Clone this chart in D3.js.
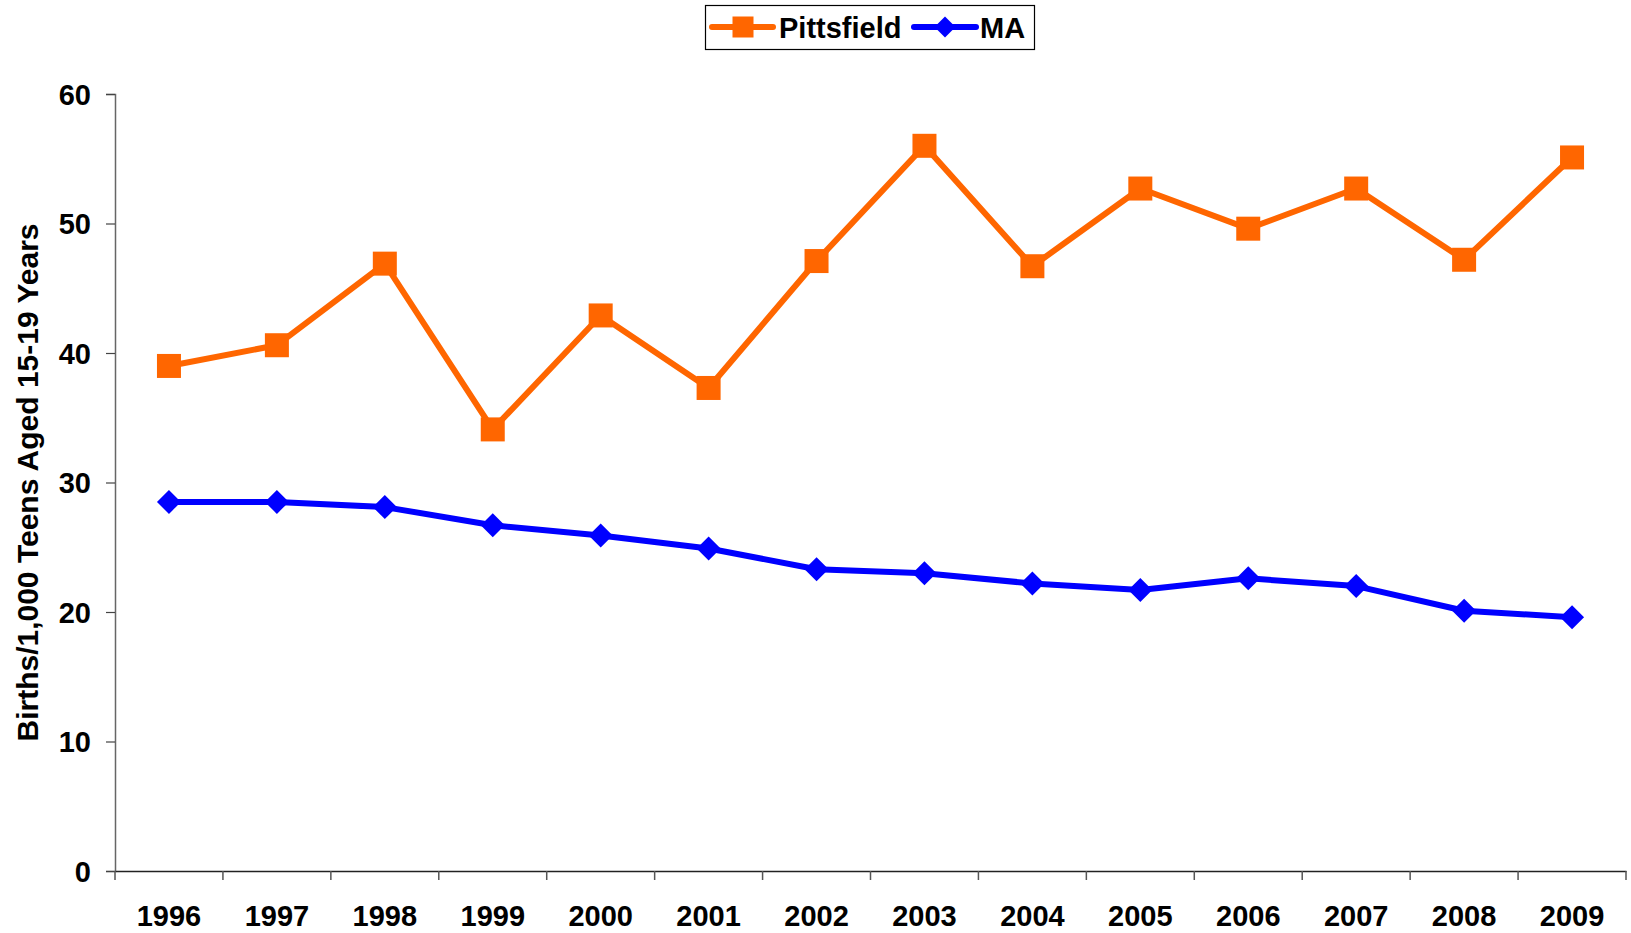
<!DOCTYPE html>
<html>
<head>
<meta charset="utf-8">
<script src="https://cdn.jsdelivr.net/npm/d3@7"></script>
<style>
  html, body { margin: 0; padding: 0; background: #fff; }
  svg { display: block; }
  text { font-family: "Liberation Sans", Arial, sans-serif; font-weight: bold; fill: #000; }
</style>
</head>
<body>
<svg id="chart" width="1631" height="933"></svg>
<script>
const years = ["1996","1997","1998","1999","2000","2001","2002","2003","2004","2005","2006","2007","2008","2009"];
const pittsfield = [39.0, 40.6, 46.9, 34.1, 42.9, 37.3, 47.1, 56.0, 46.7, 52.7, 49.6, 52.7, 47.2, 55.1];
const ma = [28.5, 28.5, 28.1, 26.7, 25.9, 24.9, 23.3, 23.0, 22.2, 21.7, 22.6, 22.0, 20.1, 19.6];
const yTicks = [0, 10, 20, 30, 40, 50, 60];
const seriesNames = ["Pittsfield", "MA"];
const yTitle = "Births/1,000 Teens Aged 15-19 Years";

const W = 1631, H = 933;
const margin = { left: 115, right: 5, top: 94, bottom: 62 };
const svg = d3.select("#chart");

const x = d3.scaleBand().domain(years).range([margin.left, W - margin.right]).paddingInner(0).paddingOuter(0);
const y = d3.scaleLinear().domain([0, 60]).range([H - margin.bottom, margin.top]);
const cx = d => x(d) + x.bandwidth() / 2;

// Y axis
const yAxis = svg.append("g").attr("transform", `translate(${margin.left},0)`)
  .call(d3.axisLeft(y).tickValues(yTicks).tickSize(9).tickPadding(15).tickFormat(d3.format("d")));
yAxis.select(".domain").attr("stroke", "#666").attr("stroke-width", 1.5);
yAxis.selectAll(".tick line").attr("stroke", "#444").attr("stroke-width", 1.2);
yAxis.selectAll(".tick text").style("font-size", "29px").style("font-family", "Liberation Sans, Arial, sans-serif").style("font-weight", "bold").attr("fill", "#000").attr("dy", "0.36em");

// X axis (labels at band centers, ticks at band edges)
const xAxis = svg.append("g").attr("transform", `translate(0,${y(0)})`)
  .call(d3.axisBottom(x).tickSize(0).tickPadding(0));
xAxis.select(".domain").attr("stroke", "#222").attr("stroke-width", 1.5);
xAxis.selectAll(".tick text").style("font-size", "29px").style("font-family", "Liberation Sans, Arial, sans-serif").style("font-weight", "bold").attr("fill", "#000").attr("y", 55).attr("dy", 0);
const edges = years.map(d => x(d)).concat([x(years[years.length - 1]) + x.bandwidth()]);
svg.append("g").selectAll("line").data(edges).join("line")
  .attr("x1", d => d).attr("x2", d => d)
  .attr("y1", y(0)).attr("y2", y(0) + 9)
  .attr("stroke", "#555").attr("stroke-width", 1.5);

// Y title
svg.append("text")
  .attr("transform", `translate(38,${(y(0) + y(60)) / 2}) rotate(-90)`)
  .attr("text-anchor", "middle")
  .style("font-size", "30px")
  .text(yTitle);

// Lines
const line = d3.line().x(d => cx(d.year)).y(d => y(d.v));
const pData = years.map((yr, i) => ({ year: yr, v: pittsfield[i] }));
const mData = years.map((yr, i) => ({ year: yr, v: ma[i] }));

svg.append("path").datum(mData).attr("d", line)
  .attr("fill", "none").attr("stroke", "#0000FF").attr("stroke-width", 6).attr("stroke-linejoin", "round");
svg.append("g").selectAll("path").data(mData).join("path")
  .attr("transform", d => `translate(${cx(d.year)},${y(d.v)})`)
  .attr("d", "M0,-12L12,0L0,12L-12,0Z")
  .attr("fill", "#0000FF");

svg.append("path").datum(pData).attr("d", line)
  .attr("fill", "none").attr("stroke", "#FF6600").attr("stroke-width", 6).attr("stroke-linejoin", "round");
svg.append("g").selectAll("rect").data(pData).join("rect")
  .attr("x", d => cx(d.year) - 12).attr("y", d => y(d.v) - 12)
  .attr("width", 24).attr("height", 24)
  .attr("fill", "#FF6600");

// Legend
const lg = svg.append("g");
lg.append("rect").attr("x", 705.5).attr("y", 5.5).attr("width", 329).attr("height", 44)
  .attr("fill", "#fff").attr("stroke", "#000").attr("stroke-width", 1.2);
const ly = 27;
// Pittsfield
lg.append("line").attr("x1", 712).attr("x2", 773).attr("y1", ly).attr("y2", ly)
  .attr("stroke", "#FF6600").attr("stroke-width", 6).attr("stroke-linecap", "round");
lg.append("rect").attr("x", 743 - 10.5).attr("y", ly - 10.5).attr("width", 21).attr("height", 21).attr("fill", "#FF6600");
lg.append("text").attr("x", 779).attr("y", ly + 10.5).style("font-size", "29px").text(seriesNames[0]);
// MA
lg.append("line").attr("x1", 914).attr("x2", 976).attr("y1", ly).attr("y2", ly)
  .attr("stroke", "#0000FF").attr("stroke-width", 6).attr("stroke-linecap", "round");
lg.append("path").attr("transform", `translate(945,${ly})`).attr("d", "M0,-10.5L10.5,0L0,10.5L-10.5,0Z").attr("fill", "#0000FF");
lg.append("text").attr("x", 980).attr("y", ly + 10.5).style("font-size", "29px").text(seriesNames[1]);
</script>
</body>
</html>
